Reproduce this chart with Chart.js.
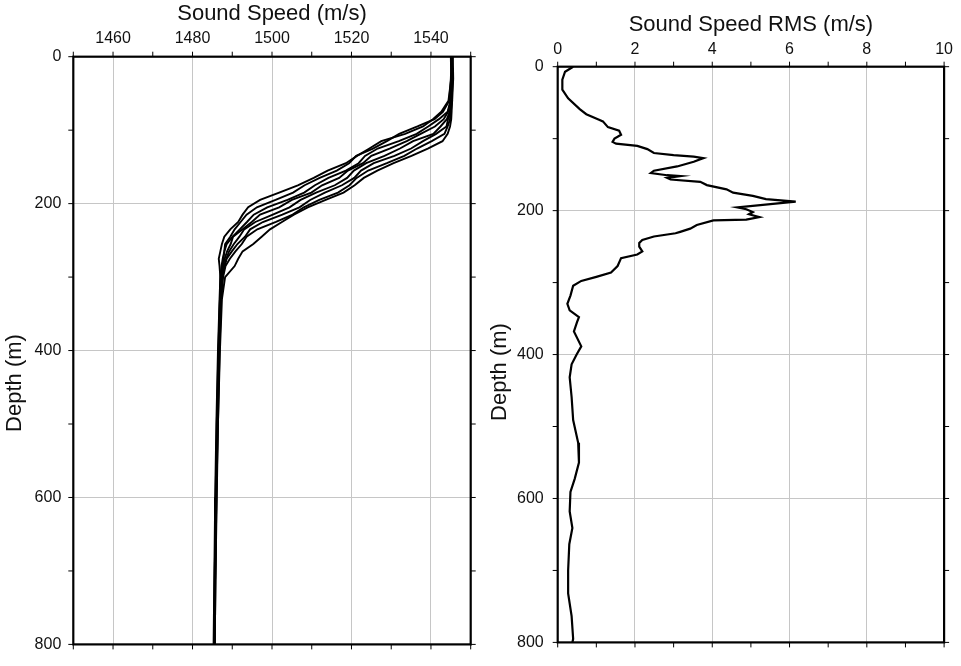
<!DOCTYPE html>
<html>
<head>
<meta charset="utf-8">
<script src="https://cdn.jsdelivr.net/npm/chart.js@4"></script>
<style>
  html, body { margin: 0; padding: 0; background: #fff; }
  #wrap { position: relative; width: 961px; height: 666px; }
  canvas { position: absolute; top: 0; }
  #speedChart { left: 0; }
  #rmsChart { left: 480px; }
</style>
</head>
<body>
<div id="wrap">
  <canvas id="speedChart" width="480" height="666"></canvas>
  <canvas id="rmsChart" width="481" height="666"></canvas>
</div>
<script>
// tick labels
const speedTicks = [1460, 1480, 1500, 1520, 1540];
const rmsTicks = [0, 2, 4, 6, 8, 10];
const depthTicks = [0, 200, 400, 600, 800];

// left panel: 8 sound speed casts, all sampled at the same depths (m)
const profileDepth = [0, 30, 60, 75, 85, 95, 105, 115, 125, 135, 145, 155, 165, 175, 185, 195,
  205, 215, 225, 235, 245, 255, 265, 275, 285, 300, 330, 400, 500, 600, 700, 800];

const cast1 = [1545.0, 1545.1, 1544.4, 1542.6, 1540.5, 1538.0, 1533.5, 1527.5, 1524.5, 1521.4, 1518.6, 1514.0, 1510.5, 1506.5, 1501.8, 1497.0,
  1494.0, 1492.6, 1491.5, 1489.5, 1488.0, 1487.4, 1487.0, 1486.6, 1486.8, 1487.0, 1486.9, 1486.6, 1486.2, 1485.9, 1485.7, 1485.5];
const cast2 = [1545.2, 1545.0, 1544.6, 1543.0, 1540.9, 1536.6, 1532.0, 1528.9, 1525.4, 1521.2, 1519.4, 1516.3, 1512.0, 1508.2, 1505.3, 1500.9,
  1496.2, 1493.6, 1492.1, 1490.6, 1489.5, 1488.2, 1488.0, 1487.6, 1487.3, 1487.0, 1486.8, 1486.4, 1486.0, 1485.7, 1485.5, 1485.3];
const cast3 = [1545.3, 1545.3, 1544.9, 1544.2, 1542.0, 1539.3, 1536.4, 1531.9, 1526.6, 1523.4, 1521.8, 1518.6, 1514.2, 1510.8, 1508.1, 1503.9,
  1498.8, 1495.4, 1493.7, 1491.9, 1490.1, 1488.6, 1488.0, 1487.8, 1487.5, 1487.2, 1486.9, 1486.5, 1486.1, 1485.8, 1485.6, 1485.4];
const cast4 = [1545.1, 1545.4, 1545.0, 1544.3, 1543.2, 1541.0, 1537.4, 1533.9, 1529.6, 1525.0, 1522.9, 1519.1, 1516.9, 1512.6, 1509.9, 1505.0,
  1501.8, 1497.0, 1494.9, 1492.6, 1490.2, 1489.6, 1488.7, 1488.1, 1487.6, 1487.3, 1487.0, 1486.7, 1486.2, 1485.9, 1485.6, 1485.4];
const cast5 = [1545.4, 1545.2, 1545.1, 1544.7, 1544.0, 1542.4, 1540.6, 1535.5, 1532.2, 1528.3, 1523.7, 1520.6, 1518.9, 1515.8, 1511.1, 1507.2,
  1504.4, 1500.2, 1495.8, 1493.0, 1491.8, 1490.4, 1489.2, 1488.5, 1487.9, 1487.4, 1487.1, 1486.6, 1486.2, 1485.9, 1485.7, 1485.5];
const cast6 = [1545.2, 1545.5, 1545.2, 1544.9, 1544.3, 1543.9, 1541.3, 1538.0, 1535.0, 1530.8, 1525.6, 1522.4, 1520.7, 1517.6, 1513.3, 1509.6,
  1506.9, 1502.6, 1497.7, 1494.5, 1493.2, 1491.3, 1489.9, 1488.6, 1488.1, 1487.5, 1487.1, 1486.7, 1486.3, 1486.0, 1485.7, 1485.5];
const cast7 = [1545.3, 1545.4, 1545.3, 1545.0, 1544.8, 1544.2, 1543.4, 1540.2, 1536.5, 1533.3, 1528.9, 1524.2, 1521.3, 1519.5, 1516.6, 1511.9,
  1508.0, 1505.2, 1501.0, 1496.3, 1493.6, 1492.4, 1490.8, 1489.4, 1488.3, 1487.7, 1487.2, 1486.8, 1486.4, 1486.0, 1485.8, 1485.6];
const cast8 = [1545.5, 1545.6, 1545.3, 1545.2, 1545.1, 1544.8, 1544.2, 1542.9, 1539.2, 1535.1, 1530.6, 1526.5, 1523.1, 1520.8, 1518.0, 1513.5,
  1509.0, 1505.5, 1502.5, 1499.5, 1497.4, 1495.3, 1492.6, 1491.5, 1490.6, 1488.2, 1487.4, 1486.9, 1486.4, 1486.1, 1485.8, 1485.6];
const casts = [cast1, cast2, cast3, cast4, cast5, cast6, cast7, cast8];

// right panel: rms of the casts vs depth
const rmsDepth = [0, 7, 18, 32, 44, 59, 66, 73, 76, 84, 89, 94.5, 100, 104.5, 107, 110, 114.5, 120, 123, 125,
  127, 132, 138.6, 144.5, 147.7, 150.8, 152, 154.5, 156.8, 160, 164.5, 170.4, 175, 179.5, 184, 187.5, 195.5, 198, 202, 205,
  209, 212.5, 213.6, 220, 225, 229.5, 231.5, 236, 240.8, 245, 250, 256.8, 261, 266, 277, 286, 292, 297.7, 304.5, 318,
  329.5, 338.6, 348, 355, 368, 388.6, 400, 413.6, 431.7, 459, 491, 522.7, 550, 572.7, 590.9, 618, 641, 663.6, 700, 731.8,
  763.6, 795, 800];
const rmsValue = [0.40, 0.19, 0.12, 0.12, 0.27, 0.57, 0.74, 1.04, 1.17, 1.30, 1.59, 1.64, 1.47, 1.42, 1.51, 2.06, 2.32, 2.49, 3.00, 3.52,
  3.77, 3.52, 3.09, 2.49, 2.41, 2.83, 3.17, 2.83, 2.92, 3.69, 3.86, 4.37, 4.54, 5.05, 5.39, 6.16, 4.65, 4.88, 5.05, 4.95,
  5.22, 4.88, 4.03, 3.60, 3.43, 3.17, 3.05, 2.49, 2.19, 2.11, 2.11, 2.19, 2.06, 1.64, 1.55, 1.38, 1.00, 0.61, 0.40, 0.33,
  0.25, 0.31, 0.55, 0.50, 0.42, 0.61, 0.49, 0.36, 0.31, 0.36, 0.40, 0.53, 0.55, 0.44, 0.33, 0.31, 0.38, 0.30, 0.27, 0.27,
  0.36, 0.40, 0.38];

Chart.defaults.font.family = "'Liberation Sans', Arial, Helvetica, sans-serif";
Chart.defaults.color = '#111';

// box around the plot with outward ticks on all four sides, plus the depth title
const framePlugin = {
  id: 'frame',
  afterDatasetsDraw(chart, args, opts) {
    const { ctx, chartArea: a, scales } = chart;
    ctx.save();
    ctx.strokeStyle = '#000';
    ctx.lineWidth = 1;
    ctx.beginPath();
    for (let v = scales.x.min; v <= scales.x.max + 1e-6; v += opts.xStep) {
      const px = scales.x.getPixelForValue(v);
      ctx.moveTo(px, a.top); ctx.lineTo(px, a.top - 5);
      ctx.moveTo(px, a.bottom); ctx.lineTo(px, a.bottom + 5);
    }
    for (let v = scales.y.min; v <= scales.y.max + 1e-6; v += opts.yStep) {
      const py = scales.y.getPixelForValue(v);
      ctx.moveTo(a.left, py); ctx.lineTo(a.left - 5, py);
      ctx.moveTo(a.right, py); ctx.lineTo(a.right + 5, py);
    }
    ctx.stroke();
    ctx.lineWidth = 2.2;
    ctx.strokeRect(a.left, a.top, a.right - a.left, a.bottom - a.top);

    ctx.translate(opts.titleX, opts.titleY);
    ctx.rotate(-Math.PI / 2);
    ctx.fillStyle = '#111';
    ctx.font = "22px 'Liberation Sans', Arial, sans-serif";
    ctx.textAlign = 'center';
    ctx.textBaseline = 'middle';
    ctx.fillText('Depth (m)', 0, 0);
    ctx.restore();
  }
};

function axisX(min, max, tickList, title, height, labelPad, titlePad) {
  return {
    type: 'linear', position: 'top', min: min, max: max,
    afterBuildTicks: s => { s.ticks = tickList.map(v => ({ value: v })); },
    afterFit: s => { s.height = height; },
    grid: { color: '#c6c6c6', lineWidth: 1, drawTicks: false },
    border: { display: false },
    ticks: { padding: labelPad, maxRotation: 0, font: { size: 16 }, callback: v => String(v) },
    title: { display: true, text: title, font: { size: 22 }, padding: { top: titlePad, bottom: 0 } }
  };
}

function axisY(width, labelPad) {
  return {
    type: 'linear', reverse: true, min: 0, max: 800,
    afterBuildTicks: s => { s.ticks = depthTicks.map(v => ({ value: v })); },
    afterFit: s => { s.width = width; },
    grid: { color: '#c6c6c6', lineWidth: 1, drawTicks: false },
    border: { display: false },
    ticks: { padding: labelPad, font: { size: 16 }, callback: v => String(v) }
  };
}

const speedData = casts.map(c => ({
  data: profileDepth.map((d, i) => ({ x: c[i], y: d })),
  borderColor: '#000',
  borderWidth: 1.9,
  pointRadius: 0,
  showLine: true,
  tension: 0
}));

new Chart(document.getElementById('speedChart'), {
  type: 'scatter',
  data: { datasets: speedData },
  options: {
    responsive: false,
    animation: false,
    layout: { padding: { left: 0, top: 0, right: 9.3, bottom: 12.7 } },
    plugins: {
      legend: { display: false }, tooltip: { enabled: false },
      frame: { xStep: 10, yStep: 100, titleX: 15, titleY: 383 }
    },
    scales: {
      x: axisX(1450, 1550, speedTicks, 'Sound Speed (m/s)', 56.7, 9, 1),
      y: axisY(73.3, 12)
    }
  },
  plugins: [framePlugin]
});

new Chart(document.getElementById('rmsChart'), {
  type: 'scatter',
  data: {
    datasets: [{
      data: rmsDepth.map((d, i) => ({ x: rmsValue[i], y: d })),
      borderColor: '#000',
      borderWidth: 2.2,
      pointRadius: 0,
      showLine: true,
      tension: 0
    }]
  },
  options: {
    responsive: false,
    animation: false,
    layout: { padding: { left: 0, top: 0, right: 12.7, bottom: 12.7 } },
    plugins: {
      legend: { display: false }, tooltip: { enabled: false },
      frame: { xStep: 1, yStep: 100, titleX: 20, titleY: 372 }
    },
    scales: {
      x: axisX(0, 10, rmsTicks, 'Sound Speed RMS (m/s)', 66.7, 8, 12),
      y: axisY(77.7, 14)
    }
  },
  plugins: [framePlugin]
});
</script>
</body>
</html>
